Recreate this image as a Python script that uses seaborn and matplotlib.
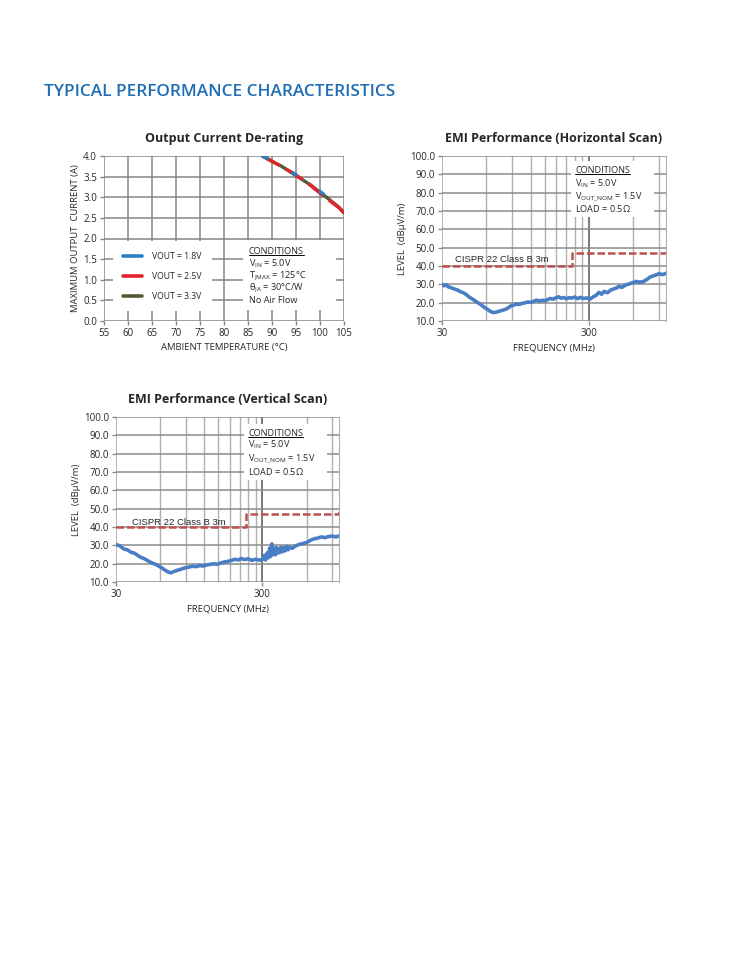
import matplotlib
matplotlib.use('Agg')
import matplotlib.pyplot as plt
import matplotlib.ticker as mticker
from matplotlib.patches import Rectangle
import seaborn as sns


# 데이터

# Output Current De-rating
temp_c = [88, 90, 92, 94, 96, 98, 100, 102, 104, 105]
iout_18 = [4.00, 3.88, 3.76, 3.62, 3.47, 3.31, 3.14, 2.96, 2.76, 2.63]
iout_25 = [4.00, 3.87, 3.75, 3.61, 3.46, 3.29, 3.10, 2.92, 2.74, 2.62]
iout_33 = [4.00, 3.87, 3.75, 3.60, 3.45, 3.30, 3.12, 2.94, 2.75, 2.62]
vout_labels = ['VOUT = 1.8V', 'VOUT = 2.5V', 'VOUT = 3.3V']

# CISPR 22 Class B 3m limit
limit_f = [30, 230, 230, 1000, 1000]
limit_db = [40, 40, 47, 47, 49.5]

# EMI horizontal scan
h_freq = [30, 31, 32, 33, 34, 36, 38, 40, 42, 44, 46, 48, 50, 52, 55, 58, 61, 64,
          67, 70, 73, 77, 80, 84, 88, 92, 96, 100, 105, 110, 115, 120, 126, 132,
          138, 145, 150, 156, 163, 170, 178, 186, 194, 202, 210, 220, 230, 240,
          250, 262, 275, 290, 305, 320, 335, 350, 365, 380, 400, 420, 440, 460,
          480, 500, 530, 560, 600, 630, 660, 700, 740, 780, 820, 860, 900, 950, 1000]
h_level = [30.0, 29.2, 29.8, 28.7, 28.4, 27.6, 27.0, 26.0, 25.4, 24.3, 23.0, 22.1,
           21.2, 20.2, 19.0, 17.5, 16.4, 15.2, 14.6, 14.8, 15.3, 15.8, 16.2, 17.0,
           18.2, 18.6, 19.3, 19.0, 19.6, 19.9, 20.4, 20.1, 20.8, 21.4, 20.9, 21.3,
           21.0, 21.6, 22.3, 21.9, 22.6, 23.2, 22.4, 22.8, 22.1, 22.7, 22.5, 23.1,
           22.2, 22.9, 22.3, 22.6, 22.0, 23.2, 24.0, 25.6, 24.6, 26.2, 25.4, 26.8,
           27.5, 28.0, 28.9, 28.3, 29.6, 30.2, 31.0, 31.6, 31.2, 31.5, 32.6, 34.0,
           34.6, 35.2, 35.8, 35.3, 36.0]

# EMI vertical scan
v_freq = [30, 32, 34, 36, 38, 40, 42, 44, 46, 48, 50, 53, 56, 59, 62, 65, 68, 71,
          74, 78, 82, 86, 90, 95, 100, 106, 112, 118, 125, 132, 140, 148, 156, 165,
          175, 185, 195, 205, 215, 225, 240, 255, 270, 285, 300, 308, 315, 322, 330,
          336, 342, 348, 354, 360, 366, 372, 378, 385, 392, 400, 410, 420, 430, 440,
          450, 460, 480, 500, 530, 560, 600, 640, 680, 720, 760, 800, 850, 900, 950,
          1000]
v_level = [30.5, 29.6, 28.0, 27.5, 26.2, 25.8, 24.6, 23.5, 23.0, 22.2, 21.4, 20.3,
           19.6, 18.6, 17.6, 16.4, 15.5, 15.0, 15.6, 16.3, 16.8, 17.4, 17.8, 18.2,
           18.6, 18.4, 19.0, 18.7, 19.3, 19.6, 19.9, 19.7, 20.4, 20.9, 21.3, 21.8,
           22.4, 22.0, 22.8, 22.3, 22.6, 21.8, 22.4, 21.9, 22.3, 24.5, 22.0, 25.8,
           23.2, 28.5, 24.0, 30.8, 25.0, 27.5, 24.8, 29.0, 25.6, 28.2, 26.0, 29.0,
           26.4, 28.8, 27.0, 29.4, 27.6, 29.0, 28.4, 29.5, 30.4, 30.9, 31.5, 32.8,
           33.6, 34.0, 34.6, 34.2, 34.8, 35.0, 34.6, 35.1]

emi_conditions = [r'V$_{\mathregular{IN}}$ = 5.0V',
                  r'V$_{\mathregular{OUT\_NOM}}$ = 1.5V',
                  r'LOAD = 0.5$\Omega$']
derate_conditions = [r'V$_{\mathregular{IN}}$ = 5.0V',
                     r'T$_{\mathregular{JMAX}}$ = 125°C',
                     r'θ$_{\mathregular{JA}}$ = 30°C/W',
                     'No Air Flow']


sns.set_style('white')
plt.rcParams['font.family'] = ['Open Sans', 'DejaVu Sans']
plt.rcParams['mathtext.fontset'] = 'custom'
plt.rcParams['mathtext.rm'] = 'Open Sans'
plt.rcParams['mathtext.it'] = 'Open Sans:italic'
plt.rcParams['mathtext.bf'] = 'Open Sans:bold'

fig = plt.figure(figsize=(7.42, 9.6), dpi=100)
fig.text(44 / 742, 1 - 92 / 960, 'TYPICAL PERFORMANCE CHARACTERISTICS',
         color='#1F6DB5', fontsize=12.4, fontweight='semibold', va='center')

tick_fs = 7
label_fs = 6.8
cond_fs = 6.6
underlines = []


def conditions_box(ax, x, ys, box, lines):
    # 흰 배경 상자 + CONDITIONS 텍스트
    ax.add_patch(Rectangle((box[0], box[1]), box[2], box[3], transform=ax.transAxes,
                           facecolor='white', edgecolor='none', zorder=1.5))
    t = ax.text(x, ys[0], 'CONDITIONS', transform=ax.transAxes, fontsize=cond_fs,
                va='center', zorder=3)
    underlines.append((ax, t))
    for s, y in zip(lines, ys[1:]):
        ax.text(x, y, s, transform=ax.transAxes, fontsize=cond_fs, va='center', zorder=3)


# 그래프 1: Output Current De-rating
ax1 = fig.add_axes([104 / 742, 1 - 321 / 960, 240 / 742, 165 / 960])
sns.lineplot(x=temp_c, y=iout_33, ax=ax1, color='#4F5B35', lw=2.4, label=vout_labels[2], zorder=4)
sns.lineplot(x=temp_c, y=iout_25, ax=ax1, color='#E3232B', lw=2.4, label=vout_labels[1], zorder=5)
sns.lineplot(x=temp_c, y=iout_18, ax=ax1, color='#2A7DBF', lw=2.4, label=vout_labels[0], zorder=6)
ax1.lines[1].set_dashes([6, 2])
ax1.lines[2].set_dashes([2, 8])
ax1.set_xlim(55, 105)
ax1.set_ylim(0, 4)
ax1.xaxis.set_major_locator(mticker.MultipleLocator(5))
ax1.yaxis.set_major_locator(mticker.MultipleLocator(0.5))
ax1.yaxis.set_major_formatter(mticker.FormatStrFormatter('%.1f'))
ax1.set_axisbelow(True)
ax1.grid(True, color='#858585', lw=1.1)
for s in ax1.spines.values():
    s.set_visible(False)
ax1.tick_params(length=3, width=1.0, color='#858585', labelsize=tick_fs, pad=2, direction='out',
                bottom=True, left=True)
ax1.set_xlabel('AMBIENT TEMPERATURE (°C)', fontsize=label_fs, labelpad=3)
ax1.set_ylabel('MAXIMUM OUTPUT  CURRENT (A)', fontsize=label_fs, labelpad=2)
ax1.set_title('Output Current De-rating', fontsize=9, fontweight='bold', pad=10)

handles, labels = ax1.get_legend_handles_labels()
order = [2, 1, 0]
leg = ax1.legend([handles[i] for i in order], [labels[i] for i in order],
                 loc='center left', bbox_to_anchor=(0.02, 0.27), fontsize=6.2,
                 frameon=True, facecolor='white', edgecolor='none', framealpha=1,
                 handlelength=2.2, handletextpad=1.1, labelspacing=1.3, borderpad=1.2)
for h in leg.legend_handles:
    h.set_linestyle('-')
    h.set_linewidth(2.6)
leg.set_zorder(2)

conditions_box(ax1, 0.604, [0.424, 0.345, 0.273, 0.20, 0.127],
               (0.58, 0.067, 0.385, 0.425), derate_conditions)


def emi_axes(rect, freq, level, title, cispr_xy, cond_x, cond_ys, cond_box):
    ax = fig.add_axes(rect)
    sns.lineplot(x=freq, y=level, ax=ax, color='#4A7EC4', lw=2.6, zorder=4,
                 estimator=None, sort=False)
    sns.lineplot(x=limit_f, y=limit_db, ax=ax, color='#C0504D', lw=1.8,
                 linestyle=(0, (3.0, 1.2)), zorder=3, estimator=None, sort=False)
    ax.set_xscale('log')
    ax.set_xlim(30, 1000)
    ax.set_ylim(10, 100)
    ax.xaxis.set_major_locator(mticker.FixedLocator([30, 300]))
    ax.xaxis.set_minor_locator(mticker.FixedLocator([60, 90, 120, 150, 180, 210, 240, 270, 600, 900]))
    ax.xaxis.set_major_formatter(mticker.FormatStrFormatter('%d'))
    ax.xaxis.set_minor_formatter(mticker.NullFormatter())
    ax.yaxis.set_major_locator(mticker.MultipleLocator(10))
    ax.yaxis.set_major_formatter(mticker.FormatStrFormatter('%.1f'))
    ax.set_axisbelow(True)
    ax.grid(True, axis='y', color='#8c8c8c', lw=1.1)
    ax.grid(True, axis='x', which='minor', color='#b0b0b0', lw=1.0)
    ax.grid(True, axis='x', which='major', color='#a0a0a0', lw=1.1)
    ax.get_xgridlines()[1].set_color('#555555')
    for s in ax.spines.values():
        s.set_visible(False)
    ax.spines['right'].set_visible(True)
    ax.spines['right'].set_color('#b0b0b0')
    ax.tick_params(which='major', length=3, width=1.0, color='#8c8c8c', labelsize=tick_fs,
                   pad=2, direction='out', bottom=True, left=True)
    ax.tick_params(which='minor', length=0)
    ax.set_xlabel('FREQUENCY (MHz)', fontsize=label_fs, labelpad=3)
    ax.set_ylabel('LEVEL  (dBμV/m)', fontsize=label_fs, labelpad=2)
    ax.set_title(title, fontsize=9, fontweight='bold', pad=10)
    ax.text(cispr_xy[0], cispr_xy[1], 'CISPR 22 Class B 3m', transform=ax.transAxes,
            fontsize=6.8, family=['Liberation Sans'], va='center', zorder=5)
    conditions_box(ax, cond_x, cond_ys, cond_box, emi_conditions)
    return ax


emi_axes([442 / 742, 1 - 321 / 960, 224 / 742, 165 / 960], h_freq, h_level,
         'EMI Performance (Horizontal Scan)', (0.058, 0.37),
         0.594, [0.915, 0.830, 0.752, 0.679], (0.576, 0.63, 0.37, 0.34))

emi_axes([116 / 742, 1 - 582 / 960, 223 / 742, 165 / 960], v_freq, v_level,
         'EMI Performance (Vertical Scan)', (0.072, 0.358),
         0.592, [0.903, 0.830, 0.745, 0.667], (0.574, 0.62, 0.37, 0.34))

# CONDITIONS 밑줄
fig.canvas.draw()
for ax, t in underlines:
    bb = t.get_window_extent().transformed(ax.transAxes.inverted())
    ax.plot([bb.x0, bb.x1], [bb.y0 + 0.005, bb.y0 + 0.005], transform=ax.transAxes,
            color='black', lw=0.7, zorder=3)

fig.savefig('out.png', dpi=100, facecolor='white')
